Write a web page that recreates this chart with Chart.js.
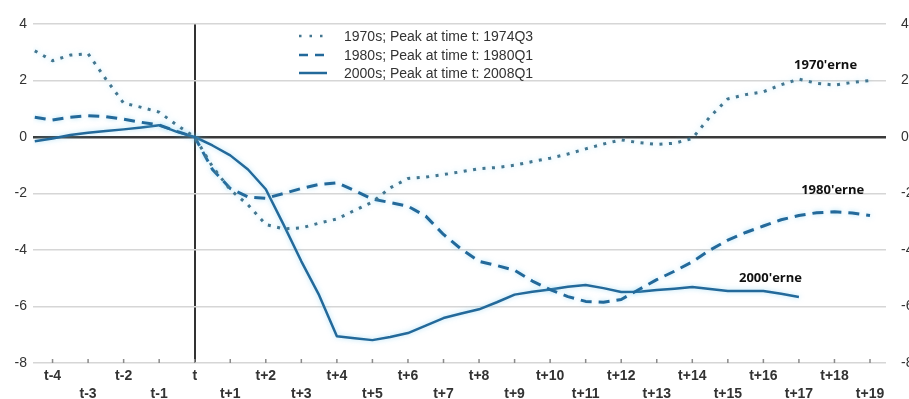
<!DOCTYPE html>
<html>
<head>
<meta charset="utf-8">
<script src="https://cdn.jsdelivr.net/npm/chart.js@4.4.1/dist/chart.umd.min.js"></script>
<style>
  html, body { margin: 0; padding: 0; background: #fff; overflow: hidden; }
  #wrap { position: relative; width: 930px; height: 399px; }
  #legend { position: absolute; left: 298px; top: 27px; font: 14px "Liberation Sans", Arial, sans-serif; color: #333; }
  #legend .row { height: 18.5px; display: flex; align-items: center; white-space: nowrap; }
  #legend svg { margin-right: 16px; }
</style>
</head>
<body>
<div id="wrap">
  <canvas id="chart" width="930" height="399"></canvas>
  <div id="legend"></div>
</div>
<script>
// quarters relative to the peak (t), half-step readings
const xs = [-4.5, -4, -3.5, -3, -2.5, -2, -1.5, -1, -0.5, 0,
    0.5, 1, 1.5, 2, 2.5, 3, 3.5, 4, 4.5, 5,
    5.5, 6, 6.5, 7, 7.5, 8, 8.5, 9, 9.5, 10,
    10.5, 11, 11.5, 12, 12.5, 13, 13.5, 14, 14.5, 15,
    15.5, 16, 16.5, 17, 17.5, 18, 18.5, 19];

const s1970 = [3.05, 2.7, 2.9, 2.95, 2.05, 1.2, 1.05, 0.88, 0.42, 0,
    -1.05, -1.87, -2.4, -3.1, -3.25, -3.22, -3.05, -2.9, -2.6, -2.3,
    -1.8, -1.47, -1.42, -1.33, -1.23, -1.12, -1.08, -1.0, -0.87, -0.75,
    -0.6, -0.42, -0.25, -0.1, -0.2, -0.26, -0.22, -0.05, 0.72, 1.35,
    1.5, 1.6, 1.85, 2.05, 1.9, 1.84, 1.93, 2.0];

const s1980 = [0.7, 0.6, 0.7, 0.75, 0.72, 0.63, 0.52, 0.42, 0.2, 0,
    -1.15, -1.82, -2.12, -2.17, -2.0, -1.82, -1.68, -1.62, -1.9, -2.2,
    -2.32, -2.45, -2.8, -3.45, -3.97, -4.4, -4.55, -4.72, -5.1, -5.4,
    -5.65, -5.82, -5.85, -5.75, -5.4, -5.05, -4.75, -4.42, -4.0, -3.65,
    -3.38, -3.15, -2.93, -2.78, -2.68, -2.65, -2.69, -2.78];

const s2000 = [-0.15, -0.05, 0.07, 0.15, 0.21, 0.27, 0.34, 0.42, 0.18, 0,
    -0.3, -0.65, -1.15, -1.85, -3.1, -4.4, -5.6, -7.05, -7.12, -7.19,
    -7.08, -6.94, -6.68, -6.41, -6.25, -6.1, -5.85, -5.58, -5.48, -5.4,
    -5.3, -5.24, -5.35, -5.49, -5.48, -5.42, -5.37, -5.31, -5.38, -5.45,
    -5.45, -5.45, -5.55, -5.66];

const tickLabels = ['t-4', 't-3', 't-2', 't-1', 't', 't+1', 't+2', 't+3', 't+4', 't+5',
    't+6', 't+7', 't+8', 't+9', 't+10', 't+11', 't+12', 't+13', 't+14', 't+15',
    't+16', 't+17', 't+18', 't+19'];

const seriesNames = ['1970s; Peak at time t: 1974Q3', '1980s; Peak at time t: 1980Q1', '2000s; Peak at time t: 2008Q1'];
const endLabels = ["1970'erne", "1980'erne", "2000'erne"];

const lineColor = '#23699a';
const dotColor = '#43768f';
const dashes = [[3, 6.5], [11, 7], []];

const toPoints = arr => arr.map((v, i) => ({ x: xs[i], y: v }));

// legend (html overlay)
const legendEl = document.getElementById('legend');
const svgDash = ['2.5 8', '9 7', ''];
seriesNames.forEach((name, i) => {
    const row = document.createElement('div');
    row.className = 'row';
    row.innerHTML = '<svg width="30" height="6"><line x1="1" y1="3" x2="29" y2="3" stroke="' +
        (i === 0 ? dotColor : lineColor) + '" stroke-width="2.5" stroke-dasharray="' + svgDash[i] + '"/></svg>' +
        '<span>' + name + '</span>';
    legendEl.appendChild(row);
});

// soft halo round the lines
const glow = {
    id: 'glow',
    beforeDatasetDraw(chart) {
        const ctx = chart.ctx;
        ctx.save();
        ctx.shadowColor = 'rgba(110,200,240,0.55)';
        ctx.shadowBlur = 5;
    },
    afterDatasetDraw(chart) {
        chart.ctx.restore();
    }
};

// small tick marks on the bottom line + series end labels
const decorations = {
    id: 'decorations',
    afterDatasetsDraw(chart) {
        const { ctx, chartArea, scales: { x, y } } = chart;
        ctx.save();
        ctx.strokeStyle = '#8a8a8a';
        ctx.lineWidth = 1.5;
        ctx.beginPath();
        x.ticks.forEach(t => {
            const px = x.getPixelForValue(t.value);
            ctx.moveTo(px, chartArea.bottom - 4);
            ctx.lineTo(px, chartArea.bottom);
        });
        ctx.stroke();

        ctx.font = '700 13px "Open Sans", sans-serif';
        ctx.fillStyle = '#111';
        ctx.textAlign = 'center';
        ctx.textBaseline = 'middle';
        const at = [[17.75, 2.55], [17.95, -1.9], [16.2, -5.0]];
        endLabels.forEach((txt, i) => {
            ctx.fillText(txt, x.getPixelForValue(at[i][0]), y.getPixelForValue(at[i][1]));
        });
        ctx.restore();
    }
};

const yTicks = {
    stepSize: 2,
    color: '#333',
    font: { family: '"Liberation Sans", Arial, sans-serif', size: 14 }
};

new Chart(document.getElementById('chart'), {
    type: 'line',
    data: {
        datasets: [s1970, s1980, s2000].map((s, i) => ({
            label: seriesNames[i],
            data: toPoints(s),
            borderColor: i === 0 ? dotColor : lineColor,
            borderWidth: i === 2 ? 2.5 : 3,
            borderDash: dashes[i],
            borderCapStyle: 'butt',
            borderJoinStyle: 'round',
            pointRadius: 0,
            fill: false,
            tension: 0
        }))
    },
    options: {
        responsive: false,
        animation: false,
        devicePixelRatio: 1,
        layout: { padding: { top: 24, left: 0, right: 0, bottom: 0 } },
        plugins: {
            legend: { display: false },
            tooltip: { enabled: false }
        },
        scales: {
            x: {
                type: 'linear',
                min: -4.55,
                max: 19.45,
                // one tick per quarter, t-4 .. t+19
                afterBuildTicks: scale => {
                    scale.ticks = tickLabels.map((_, i) => ({ value: i - 4 }));
                },
                afterFit: scale => { scale.height = 36; },
                border: { display: false },
                grid: {
                    drawTicks: false,
                    color: ctx => ctx.tick && ctx.tick.value === 0 ? '#333' : 'rgba(0,0,0,0)',
                    lineWidth: 2
                },
                ticks: {
                    autoSkip: false,
                    maxRotation: 0,
                    minRotation: 0,
                    padding: 4,
                    color: '#333',
                    font: { family: '"Liberation Sans", Arial, sans-serif', size: 14, weight: 'bold', lineHeight: 1.3 },
                    callback: value => {
                        const i = Math.round(value) + 4;
                        const lbl = tickLabels[i];
                        if (lbl === undefined) return '';
                        return i % 2 === 0 ? [lbl] : ['', lbl];
                    }
                }
            },
            y: {
                position: 'left',
                min: -8,
                max: 4,
                afterFit: scale => { scale.width = 33; },
                border: { display: false },
                grid: {
                    drawTicks: false,
                    color: ctx => ctx.tick.value === 0 ? '#3a3a3a' : '#d6d6d6',
                    lineWidth: ctx => ctx.tick.value === 0 ? 2.5 : 1.5
                },
                ticks: Object.assign({ padding: 6 }, yTicks)
            },
            y2: {
                position: 'right',
                min: -8,
                max: 4,
                afterFit: scale => { scale.width = 44; },
                border: { display: false },
                grid: { drawOnChartArea: false, drawTicks: false },
                ticks: Object.assign({ padding: 15 }, yTicks)
            }
        }
    },
    plugins: [glow, decorations]
});
</script>
</body>
</html>
